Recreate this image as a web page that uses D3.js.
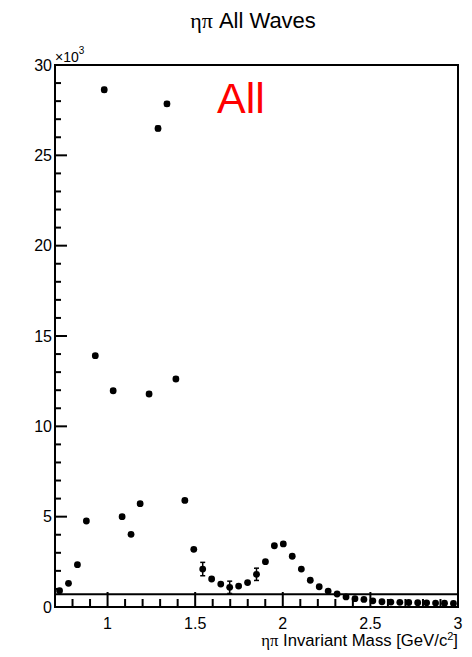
<!DOCTYPE html>
<html>
<head>
<meta charset="utf-8">
<script src="https://cdn.jsdelivr.net/npm/d3@7"></script>
<style>
  html, body { margin: 0; padding: 0; background: #fff; }
  svg { display: block; }
  text { font-family: "Liberation Sans", Arial, Helvetica, sans-serif; fill: #000; }
  .greek { font-family: "Liberation Serif", "DejaVu Serif", serif; }
</style>
</head>
<body>
<svg id="chart" width="472" height="657"></svg>
<script>
// ηπ invariant mass spectrum, all waves, 45 bins over 0.7–3.0 GeV/c²
const binCenters = [
  0.726, 0.777, 0.828, 0.879, 0.930, 0.981, 1.032, 1.083, 1.134, 1.186,
  1.237, 1.288, 1.339, 1.390, 1.441, 1.492, 1.543, 1.594, 1.646, 1.697,
  1.748, 1.799, 1.850, 1.901, 1.952, 2.003, 2.054, 2.106, 2.157, 2.208,
  2.259, 2.310, 2.361, 2.412, 2.463, 2.514, 2.566, 2.617, 2.668, 2.719,
  2.770, 2.821, 2.872, 2.923, 2.974
];
// yields in units of 10^3 events
const yields = [
  0.90, 1.31, 2.34, 4.76, 13.91, 28.63, 11.97, 5.00, 4.02, 5.72,
  11.79, 26.49, 27.85, 12.62, 5.90, 3.19, 2.10, 1.55, 1.27, 1.09,
  1.16, 1.35, 1.81, 2.51, 3.39, 3.49, 2.81, 2.10, 1.48, 1.12,
  0.88, 0.72, 0.56, 0.46, 0.42, 0.34, 0.29, 0.27, 0.26, 0.25,
  0.24, 0.23, 0.22, 0.21, 0.20
];
const yieldErrors = [
  0.05, 0.05, 0.06, 0.08, 0.10, 0.12, 0.10, 0.08, 0.08, 0.09,
  0.10, 0.12, 0.12, 0.10, 0.09, 0.08, 0.37, 0.07, 0.07, 0.34,
  0.07, 0.07, 0.34, 0.08, 0.09, 0.09, 0.08, 0.07, 0.07, 0.06,
  0.05, 0.05, 0.04, 0.04, 0.04, 0.03, 0.03, 0.03, 0.03, 0.03,
  0.03, 0.03, 0.03, 0.03, 0.03
];
const xTicks = [1, 1.5, 2, 2.5, 3];
const yTicks = [0, 5, 10, 15, 20, 25, 30];
const referenceLevel = 0.70;

const svg = d3.select("#chart");
const plotLeft = 55, plotRight = 458, plotTop = 65, plotBottom = 607;

const x = d3.scaleLinear().domain([0.7, 3.0]).range([plotLeft, plotRight]);
const y = d3.scaleLinear().domain([0, 30]).range([plotBottom, plotTop]);

// title
const title = svg.append("text")
  .attr("x", 253).attr("y", 28)
  .attr("text-anchor", "middle")
  .style("font-size", "22px");
title.append("tspan").attr("class", "greek").text("ηπ");
title.append("tspan").text(" All Waves");

// minor / major ticks
const g = svg.append("g");
const yMinor = d3.range(0, 31, 1);
g.selectAll(".ytick").data(yMinor).join("line")
  .attr("x1", plotLeft).attr("x2", d => plotLeft + (d % 5 === 0 ? 12 : 6))
  .attr("y1", d => y(d)).attr("y2", d => y(d))
  .attr("stroke", "#000").attr("stroke-width", 2);

const xMinor = d3.range(8, 31, 1).map(d => d / 10);
g.selectAll(".xtick").data(xMinor).join("line")
  .attr("x1", d => x(d)).attr("x2", d => x(d))
  .attr("y1", plotBottom)
  .attr("y2", d => plotBottom - (Math.abs(d * 2 - Math.round(d * 2)) < 1e-6 ? 15 : 8))
  .attr("stroke", "#000").attr("stroke-width", 2);

// tick labels
svg.append("g").selectAll("text").data(yTicks).join("text")
  .attr("x", plotLeft - 3).attr("y", d => y(d) + 5.5)
  .attr("text-anchor", "end")
  .style("font-size", "16px")
  .text(d => d);

svg.append("g").selectAll("text").data(xTicks).join("text")
  .attr("x", d => x(d)).attr("y", 629)
  .attr("text-anchor", "middle")
  .style("font-size", "16px")
  .text(d => d);

// exponent
const ex = svg.append("text").attr("x", 55).attr("y", 62).style("font-size", "14px");
ex.append("tspan").text("×10");
ex.append("tspan").attr("dy", -8).style("font-size", "10px").text("3");

// axis title
const xt = svg.append("text")
  .attr("x", plotRight).attr("y", 646)
  .attr("text-anchor", "end")
  .style("font-size", "16.7px");
xt.append("tspan").attr("class", "greek").text("ηπ");
xt.append("tspan").text(" Invariant Mass [GeV/c");
xt.append("tspan").attr("dy", -6).style("font-size", "11px").text("2");
xt.append("tspan").attr("dy", 6).text("]");

// reference line
svg.append("line")
  .attr("x1", plotLeft).attr("x2", plotRight)
  .attr("y1", y(referenceLevel)).attr("y2", y(referenceLevel))
  .attr("stroke", "#000").attr("stroke-width", 2);

// frame
svg.append("rect")
  .attr("x", plotLeft).attr("y", plotTop)
  .attr("width", plotRight - plotLeft).attr("height", plotBottom - plotTop)
  .attr("fill", "none").attr("stroke", "#000").attr("stroke-width", 2);

// data points with error bars
const pts = binCenters.map((m, i) => ({ m, v: yields[i], e: yieldErrors[i] }));
const pg = svg.append("g");
pg.selectAll(".err").data(pts).join("line")
  .attr("x1", d => x(d.m)).attr("x2", d => x(d.m))
  .attr("y1", d => y(d.v - d.e)).attr("y2", d => y(d.v + d.e))
  .attr("stroke", "#000").attr("stroke-width", 1.5);
pg.selectAll(".capt").data(pts).join("line")
  .attr("x1", d => x(d.m) - 2.5).attr("x2", d => x(d.m) + 2.5)
  .attr("y1", d => y(d.v + d.e)).attr("y2", d => y(d.v + d.e))
  .attr("stroke", "#000").attr("stroke-width", 1.5);
pg.selectAll(".capb").data(pts).join("line")
  .attr("x1", d => x(d.m) - 2.5).attr("x2", d => x(d.m) + 2.5)
  .attr("y1", d => y(d.v - d.e)).attr("y2", d => y(d.v - d.e))
  .attr("stroke", "#000").attr("stroke-width", 1.5);
pg.selectAll("circle").data(pts).join("circle")
  .attr("cx", d => x(d.m)).attr("cy", d => y(d.v))
  .attr("r", 3.4).attr("fill", "#000");

// label
svg.append("text")
  .attr("x", 217).attr("y", 113)
  .style("font-size", "43px").style("fill", "#ff0000")
  .text("All");
</script>
</body>
</html>
